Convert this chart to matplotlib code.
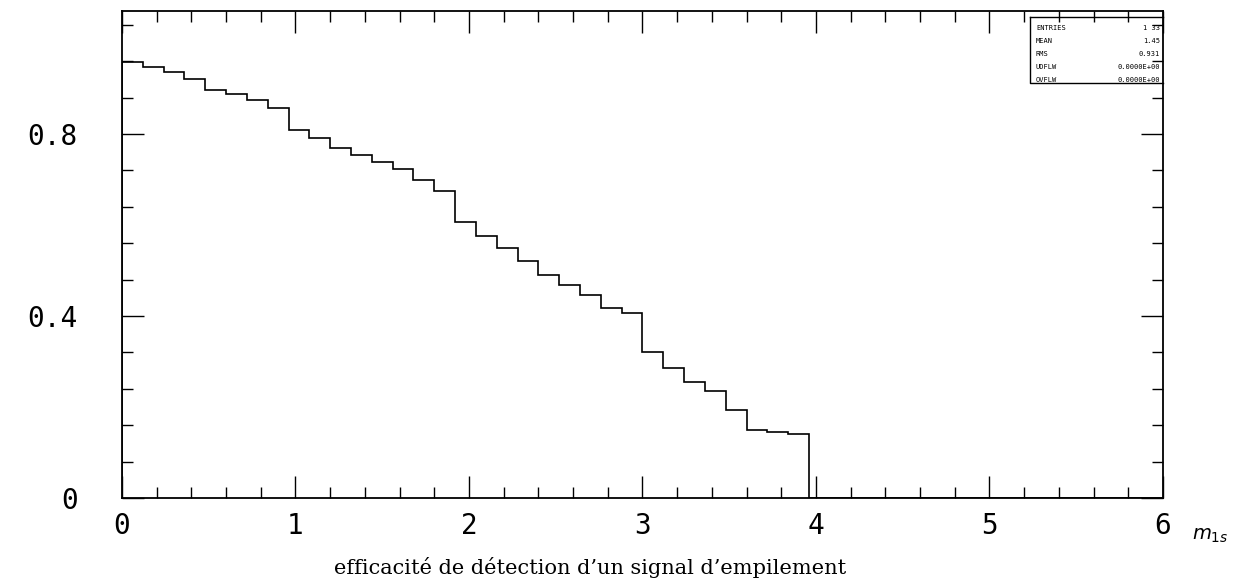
import numpy as np
import matplotlib
matplotlib.use('Agg')
import matplotlib.pyplot as plt
from matplotlib.ticker import MultipleLocator, FixedLocator

# efficiency per bin (bin width 0.12 on m_1s)
bin_width = 0.12
n_bins = 50
efficiency = [0.959, 0.947, 0.937, 0.921, 0.896, 0.887, 0.875, 0.858,
              0.809, 0.792, 0.770, 0.754, 0.738, 0.722, 0.699, 0.675,
              0.607, 0.575, 0.549, 0.521, 0.489, 0.467, 0.446, 0.417, 0.406,
              0.321, 0.285, 0.255, 0.235, 0.194, 0.149, 0.144, 0.141]

x_ticks = [0, 1, 2, 3, 4, 5, 6]
x_labels = ['0', '1', '2', '3', '4', '5', '6']
y_ticks = [0, 0.4, 0.8]
y_labels = ['0', '0.4', '0.8']

stat_names = ['ENTRIES', 'MEAN', 'RMS', 'UDFLW', 'OVFLW']
stat_values = ['1 33', '1.45', '0.931', '0.0000E+00', '0.0000E+00']

values = np.zeros(n_bins)
values[:len(efficiency)] = efficiency
edges = np.arange(n_bins + 1) * bin_width

fig = plt.figure(figsize=(12.47, 5.87), dpi=100)
ax = fig.add_axes([0.0978, 0.1516, 0.8348, 0.8296])

ax.stairs(values, edges, color='black', linewidth=1.2, baseline=0)
ax.set_xlim(0, 6)
ax.set_ylim(0, 1.07)

tick_font = 'DejaVu Sans Mono'
ax.xaxis.set_major_locator(FixedLocator(x_ticks))
ax.xaxis.set_minor_locator(MultipleLocator(0.2))
ax.set_xticklabels(x_labels, fontsize=20, family=tick_font)
ax.yaxis.set_major_locator(FixedLocator(y_ticks))
ax.yaxis.set_minor_locator(MultipleLocator(0.08))
ax.set_yticklabels(y_labels, fontsize=20, family=tick_font)

ax.tick_params(which='both', direction='in', top=True, right=True, width=1.0)
ax.tick_params(which='major', length=16)
ax.tick_params(which='minor', length=8)
ax.tick_params(axis='x', which='major', pad=10)
ax.tick_params(axis='y', which='major', pad=32)
for s in ax.spines.values():
    s.set_linewidth(1.3)

# statistics box in the top right corner
bx0, by0 = 0.872, 0.853
ax.plot([bx0, bx0, 1.0], [0.988, by0, by0], transform=ax.transAxes,
        color='black', linewidth=1.0, clip_on=False)
ax.plot([bx0, 1.0], [0.988, 0.988], transform=ax.transAxes,
        color='black', linewidth=1.0, clip_on=False)
for i, (name, val) in enumerate(zip(stat_names, stat_values)):
    yy = 0.966 - i * 0.027
    ax.text(bx0 + 0.006, yy, name, transform=ax.transAxes, fontsize=5,
            family=tick_font, va='center', ha='left')
    ax.text(0.997, yy, val, transform=ax.transAxes, fontsize=5,
            family=tick_font, va='center', ha='right')

ax.text(1.045, -0.078, r'$m_{1s}$', transform=ax.transAxes, fontsize=14,
        ha='center', va='center')
fig.text(0.473, 0.033, "efficacité de détection d’un signal d’empilement",
         fontsize=15, family='DejaVu Serif', ha='center', va='center')

fig.savefig('out.png', dpi=100)
